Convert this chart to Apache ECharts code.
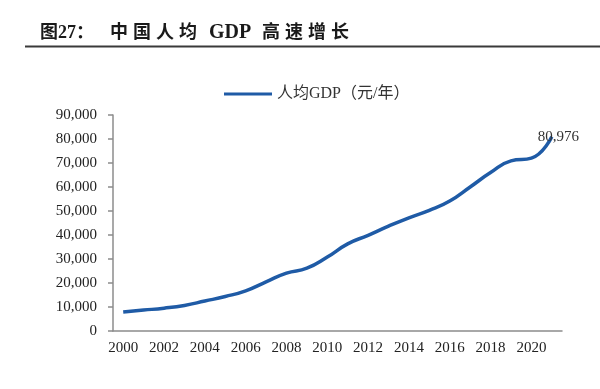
<!DOCTYPE html>
<html>
<head>
<meta charset="utf-8">
<script src="https://cdn.jsdelivr.net/npm/echarts@6/dist/echarts.min.js"></script>
<style>
html,body{margin:0;padding:0;background:#fff;}
#c{width:600px;height:389px;}
</style>
</head>
<body>
<div id="c"></div>
<script>
var years = ['2000','2001','2002','2003','2004','2005','2006','2007','2008','2009','2010','2011','2012','2013','2014','2015','2016','2017','2018','2019','2020','2021'];
var gdpPerCapita = [7942, 8717, 9506, 10666, 12487, 14368, 16738, 20494, 24100, 26180, 30808, 36302, 39874, 43684, 47173, 50237, 54139, 60014, 66006, 70892, 72000, 80976];
var seriesName = '人均GDP（元/年）';
var titleParts = ['图27：', '中', '国', '人', '均', 'GDP', '高', '速', '增', '长'];
var titleStyles = ['a', 'c', 'c', 'c', 'j', 'g', 'c', 'c', 'c', 'c'];

var serif = '"Liberation Serif", "Times New Roman", "Noto Sans CJK SC", serif';
var titleRich = titleParts.map(function (t, i) { return '{' + titleStyles[i] + '|' + t + '}'; }).join('');
var tStyle = function (w, fs) {
  return {width: w, fontFamily: serif, fontSize: fs || 18, fontWeight: 'bold', color: '#1a1a1a', align: 'left'};
};
var chart = echarts.init(document.getElementById('c'), null, {renderer: 'canvas'});
chart.setOption({
  animation: false,
  backgroundColor: '#fff',
  title: {
    text: titleRich,
    left: 35,
    top: 18,
    textStyle: {
      fontFamily: serif, fontSize: 18, fontWeight: 'bold', color: '#1a1a1a',
      rich: {a: tStyle(70), c: tStyle(23), j: tStyle(30), g: tStyle(53, 20)}
    }
  },
  graphic: [{
    type: 'line',
    shape: {x1: 25, y1: 46.5, x2: 600, y2: 46.5},
    style: {stroke: '#3a3a3a', lineWidth: 2}
  }],
  legend: {
    left: 219,
    top: 81,
    icon: 'rect',
    itemWidth: 48,
    itemHeight: 3,
    textStyle: {fontFamily: serif, fontSize: 16, color: '#333'},
    data: [seriesName]
  },
  grid: {left: 113, right: 38, top: 115, bottom: 58, containLabel: false},
  xAxis: {
    type: 'category',
    data: years,
    boundaryGap: true,
    axisLine: {lineStyle: {color: '#8c8c8c', width: 1.5}},
    axisTick: {interval: 1, length: 4, lineStyle: {color: '#8c8c8c', width: 1.5}},
    axisLabel: {interval: 1, margin: 10, fontFamily: serif, fontSize: 15, color: '#222'},
    splitLine: {show: false}
  },
  yAxis: {
    type: 'value',
    min: 0,
    max: 90000,
    interval: 10000,
    axisLine: {show: true, lineStyle: {color: '#8c8c8c', width: 1.5}},
    axisTick: {show: true, length: 5, lineStyle: {color: '#8c8c8c', width: 1.5}},
    axisLabel: {
      margin: 16,
      fontFamily: serif,
      fontSize: 15,
      color: '#222',
      formatter: function (v) { return v.toLocaleString('en-US'); }
    },
    splitLine: {show: false}
  },
  series: [{
    name: seriesName,
    type: 'line',
    data: gdpPerCapita,
    smooth: true,
    showSymbol: false,
    symbol: 'none',
    lineStyle: {color: '#1f5ba6', width: 3.5},
    itemStyle: {color: '#1f5ba6'},
    endLabel: {
      show: true,
      offset: [-22, 0],
      fontFamily: serif,
      fontSize: 15,
      color: '#333',
      formatter: function (p) { return Number(p.value).toLocaleString('en-US'); }
    }
  }]
});
</script>
</body>
</html>
